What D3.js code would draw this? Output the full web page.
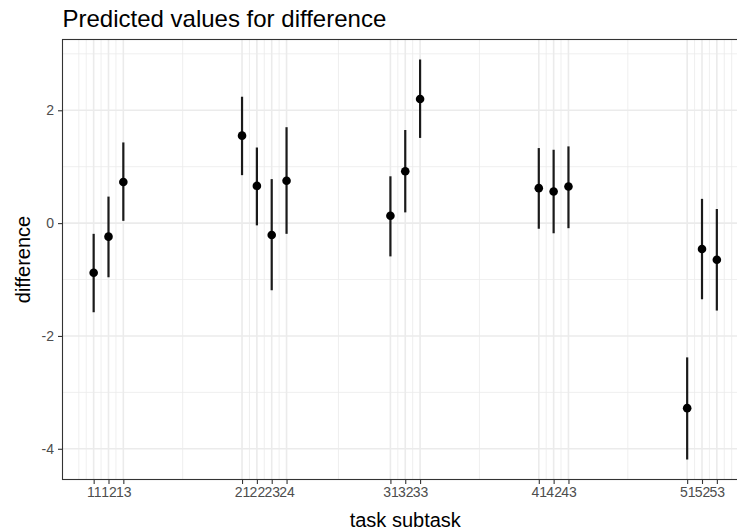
<!DOCTYPE html>
<html>
<head>
<meta charset="utf-8">
<script src="https://cdn.jsdelivr.net/npm/d3@7"></script>
<style>
  body { margin: 0; background: #fff; }
  text { font-family: "Liberation Sans", Arial, sans-serif; }
</style>
</head>
<body>
<div id="chart"></div>
<script>
// task / subtask codes and the predicted values with their intervals
const tasks    = [1, 1, 1, 2, 2, 2, 2, 3, 3, 3, 4, 4, 4, 5, 5, 5];
const subtasks = [1, 2, 3, 1, 2, 3, 4, 1, 2, 3, 1, 2, 3, 1, 2, 3];
const estimate = [-0.88, -0.24, 0.73, 1.55, 0.66, -0.21, 0.75, 0.13, 0.92, 2.20, 0.62, 0.56, 0.65, -3.28, -0.46, -0.65];
const lower    = [-1.58, -0.96, 0.04, 0.85, -0.04, -1.19, -0.19, -0.59, 0.19, 1.51, -0.10, -0.18, -0.09, -4.19, -1.35, -1.55];
const upper    = [-0.19, 0.47, 1.43, 2.24, 1.34, 0.78, 1.70, 0.83, 1.65, 2.90, 1.33, 1.30, 1.36, -2.38, 0.43, 0.25];
const yTicks   = [-4, -2, 0, 2];

const width = 737, height = 532;
const margin = { top: 39.5, left: 62.5 };
const panelRight = 748, panelBottom = 479.5;

const data = tasks.map((t, i) => ({
    x: t + subtasks[i] / 10,
    label: `${t}${subtasks[i]}`,
    est: estimate[i], lo: lower[i], hi: upper[i]
}));
const xBreaks = data.map(d => d.x);

// ggplot-like 5% expansion
function expand(ext) {
    const pad = (ext[1] - ext[0]) * 0.05;
    return [ext[0] - pad, ext[1] + pad];
}
const xDomain = expand(d3.extent(xBreaks));
const yDomain = expand([d3.min(lower), d3.max(upper)]);

const x = d3.scaleLinear().domain(xDomain).range([margin.left, panelRight]);
const y = d3.scaleLinear().domain(yDomain).range([panelBottom, margin.top]);

// minor breaks the way ggplot builds them (midpoints, extended one step outside)
const near = (arr, v) => arr.some(m => Math.abs(m - v) < 1e-6);
function minorBreaks(major, lim) {
    const b = major.slice();
    const bd = b[1] - b[0];
    if (lim[0] < b[0]) b.unshift(b[0] - bd);
    if (lim[1] > b[b.length - 1]) b.push(b[b.length - 1] + bd);
    const out = [];
    for (let i = 0; i < b.length - 1; i++) out.push(b[i], (b[i] + b[i + 1]) / 2);
    out.push(b[b.length - 1]);
    return out.filter(v => v >= lim[0] && v <= lim[1] && !near(major, v));
}
const xMinor = minorBreaks(xBreaks, xDomain);
const yMinor = minorBreaks(yTicks, yDomain);

const svg = d3.select("#chart").append("svg")
    .attr("width", width)
    .attr("height", height);

const grid = svg.append("g");
grid.selectAll("line.xminor").data(xMinor).enter().append("line")
    .attr("x1", d => x(d)).attr("x2", d => x(d))
    .attr("y1", margin.top).attr("y2", panelBottom)
    .attr("stroke", "#ebebeb").attr("stroke-width", 0.8);
grid.selectAll("line.yminor").data(yMinor).enter().append("line")
    .attr("x1", margin.left).attr("x2", panelRight)
    .attr("y1", d => y(d)).attr("y2", d => y(d))
    .attr("stroke", "#ebebeb").attr("stroke-width", 0.8);
grid.selectAll("line.xmajor").data(xBreaks).enter().append("line")
    .attr("x1", d => x(d)).attr("x2", d => x(d))
    .attr("y1", margin.top).attr("y2", panelBottom)
    .attr("stroke", "#ebebeb").attr("stroke-width", 1.6);
grid.selectAll("line.ymajor").data(yTicks).enter().append("line")
    .attr("x1", margin.left).attr("x2", panelRight)
    .attr("y1", d => y(d)).attr("y2", d => y(d))
    .attr("stroke", "#ebebeb").attr("stroke-width", 1.6);

// point ranges
const marks = svg.append("g");
marks.selectAll("line.range").data(data).enter().append("line")
    .attr("x1", d => x(d.x)).attr("x2", d => x(d.x))
    .attr("y1", d => y(d.lo)).attr("y2", d => y(d.hi))
    .attr("stroke", "#1a1a1a").attr("stroke-width", 2.2);
marks.selectAll("circle").data(data).enter().append("circle")
    .attr("cx", d => x(d.x)).attr("cy", d => y(d.est))
    .attr("r", 4.3).attr("fill", "#000");

// panel border
svg.append("rect")
    .attr("x", margin.left).attr("y", margin.top)
    .attr("width", panelRight - margin.left).attr("height", panelBottom - margin.top)
    .attr("fill", "none").attr("stroke", "#333").attr("stroke-width", 1.1);

// axes
const xAxis = svg.append("g")
    .attr("transform", `translate(0,${panelBottom})`)
    .call(d3.axisBottom(x).tickValues(xBreaks)
        .tickFormat((d, i) => data[i].label).tickSizeOuter(0).tickSize(4.5).tickPadding(3));
const yAxis = svg.append("g")
    .attr("transform", `translate(${margin.left},0)`)
    .call(d3.axisLeft(y).tickValues(yTicks).tickFormat(d => String(d))
        .tickSizeOuter(0).tickSize(4.5).tickPadding(4));
[xAxis, yAxis].forEach(a => {
    a.select(".domain").remove();
    a.selectAll(".tick line").attr("stroke", "#333").attr("stroke-width", 1.1);
    a.selectAll(".tick text").attr("fill", "#4d4d4d")
        .style("font-family", '"Liberation Sans", Arial, sans-serif')
        .style("font-size", "14px");
});

// titles
svg.append("text")
    .attr("x", margin.left).attr("y", 27.3)
    .style("font-size", "24px").attr("fill", "#000")
    .text("Predicted values for difference");
svg.append("text")
    .attr("x", (margin.left + panelRight) / 2).attr("y", 526.5)
    .attr("text-anchor", "middle")
    .style("font-size", "20px").attr("fill", "#000")
    .text("task subtask");
svg.append("text")
    .attr("transform", `translate(29.5,${(margin.top + panelBottom) / 2}) rotate(-90)`)
    .attr("text-anchor", "middle")
    .style("font-size", "20px").attr("fill", "#000")
    .text("difference");
</script>
</body>
</html>
